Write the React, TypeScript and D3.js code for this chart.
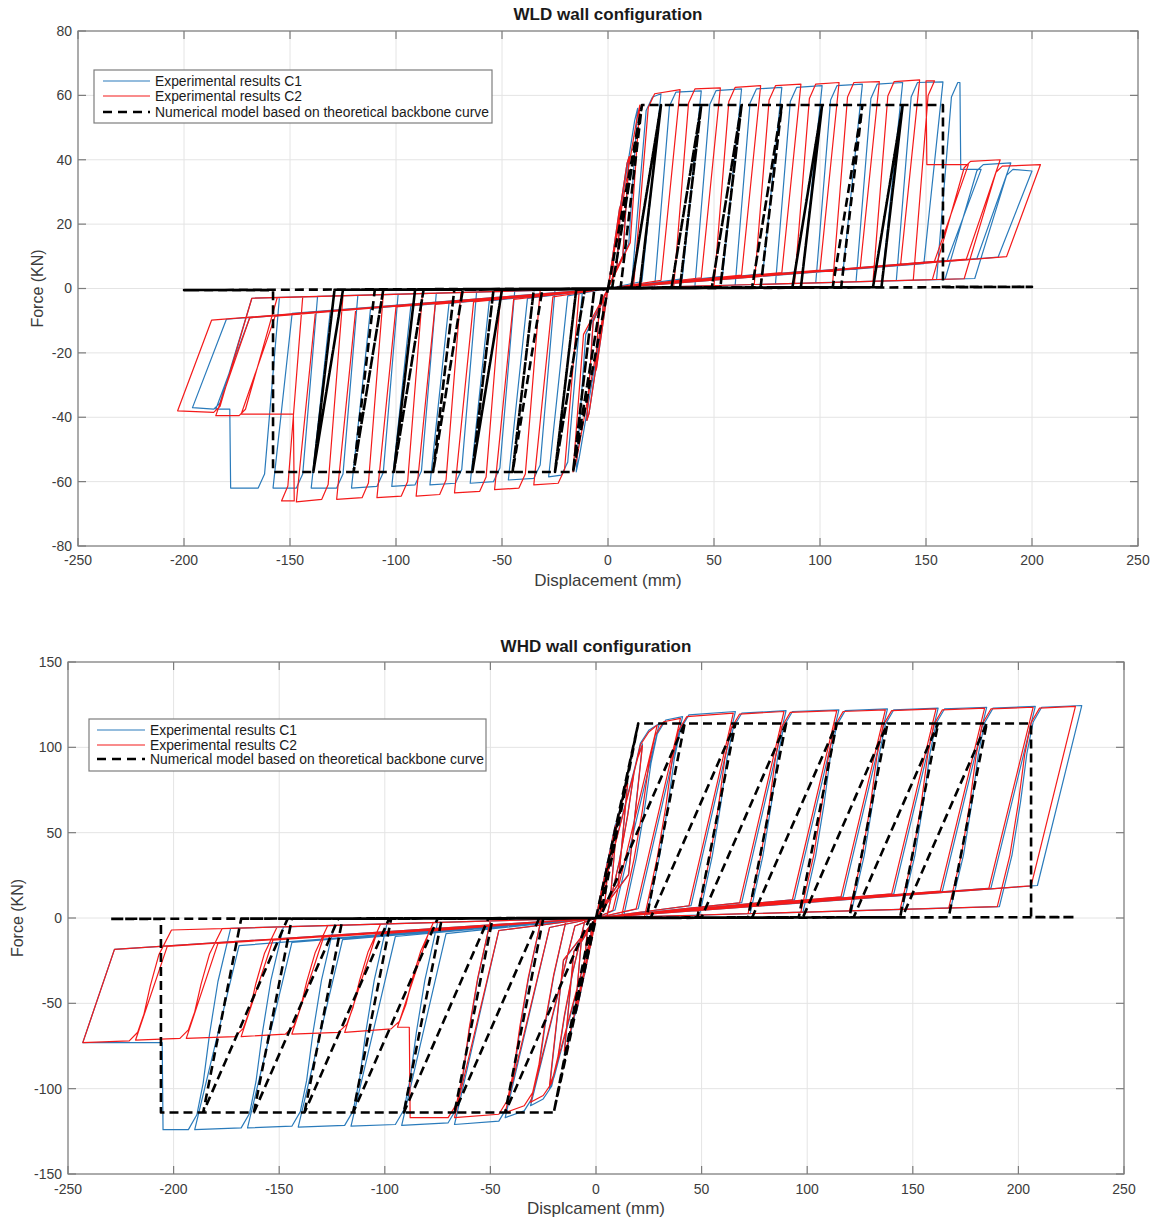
import React from 'react';
import * as d3 from 'd3';

type Cycle = [number, number, number, number]; // amplitude (mm), force at plateau start, force at amplitude, displacement of strength drop (0 = none)
type Pt = [number, number];

// ---------------- WLD wall configuration (top) ----------------
const wldXTicks = [-250, -200, -150, -100, -50, 0, 50, 100, 150, 200, 250];
const wldYTicks = [-80, -60, -40, -20, 0, 20, 40, 60, 80];

const wldC1Pos: Cycle[] = [
  [3, 13, 13, 0], [6, 26, 26, 0], [10, 41, 41, 0], [14, 55, 56, 0],
  [25, 59.5, 60.5, 0], [44, 61, 61.4, 0], [63, 61.5, 62, 0], [82, 62, 62.5, 0],
  [101, 62.5, 63, 0], [120, 63, 63.5, 0], [139, 63.5, 64, 0], [158, 64, 64.2, 0],
  [176, 64, 37, 166], [190, 38.5, 39, 0], [200, 37, 36.5, 0],
];
const wldC1Neg: Cycle[] = [
  [3, -13, -13, 0], [6, -26, -26, 0], [10, -41, -41, 0], [15, -55, -57, 0],
  [28, -58, -58.5, 0], [47, -59, -59.5, 0], [65, -60, -60.5, 0], [84, -60.5, -61, 0],
  [102, -61, -61.5, 0], [121, -61.5, -62, 0], [140, -62, -62, 0], [158, -62, -62, 0],
  [185, -62, -37.5, 178], [196, -37.5, -37, 0],
];
const wldC2Pos: Cycle[] = [
  [3, 13, 13, 0], [6, 26, 26, 0], [10, 41, 41, 0], [15, 55, 57, 0],
  [34, 60.5, 61.8, 0], [53, 62, 62.3, 0], [72, 62.5, 63, 0], [91, 63, 63.5, 0],
  [109, 63.5, 64, 0], [128, 64, 64.3, 0], [147, 64.3, 64.8, 0],
  [170, 64.5, 38.5, 150], [185, 39.5, 40, 0], [204, 38, 38.5, 0],
];
const wldC2Neg: Cycle[] = [
  [3, -13, -13, 0], [6, -26, -26, 0], [10, -41, -41, 0], [16.5, -56, -57, 0],
  [35, -60.5, -61, 0], [53.5, -62, -62.5, 0], [72.4, -63, -63.5, 0], [90.5, -64, -64.5, 0],
  [109, -64.5, -65, 0], [128, -65, -65.5, 0], [147, -65.5, -66.3, 0],
  [173, -66, -39, 148], [185, -39.5, -39.5, 0], [203, -38.5, -38, 0],
];
const wldNumPos = [16, 25, 44, 63, 82, 101, 120, 139, 158];
const wldNumNeg = [16.5, 25, 45, 64, 82.5, 101, 120, 139, 158];
const wldNumForce = 57;
const wldNumTail = [200, 200];

// ---------------- WHD wall configuration (bottom) ----------------
const whdXTicks = [-250, -200, -150, -100, -50, 0, 50, 100, 150, 200, 250];
const whdYTicks = [-150, -100, -50, 0, 50, 100, 150];

const whdC1Pos: Cycle[] = [
  [3, 18, 18, 0], [6, 35, 35, 0], [10, 57, 57, 0], [15, 80, 80, 0], [22, 100, 102, 0],
  [30, 110, 114, 0], [41, 116, 118, 0], [66, 119, 121, 0], [90, 120, 121.5, 0], [115, 121, 122, 0],
  [138, 121.5, 122.5, 0], [162, 122, 123, 0], [185, 122.5, 123.5, 0], [208, 123, 124, 0], [230, 123.5, 124.5, 0],
];
const whdC1Neg: Cycle[] = [
  [3, -18, -18, 0], [6, -35, -35, 0], [10, -57, -57, 0], [15, -80, -80, 0], [22, -98, -100, 0],
  [31, -106, -110, 0], [43, -113, -117, 0], [67, -119, -121, 0], [92, -120, -121.5, 0], [116, -121, -122, 0],
  [141, -121.5, -122.5, 0], [165, -122, -123, 0], [190, -123, -124, 0], [243, -124, -73, 205],
];
const whdC2Pos: Cycle[] = [
  [3, 18, 18, 0], [6, 34, 34, 0], [10, 56, 56, 0], [15, 79, 79, 0], [22, 99, 101, 0],
  [29, 109, 113, 0], [40, 115, 117, 0], [65, 118, 120, 0], [89, 119.5, 121, 0], [114, 120.5, 121.5, 0],
  [137, 121, 122, 0], [161, 121.5, 122.5, 0], [184, 122, 123, 0], [207, 122.5, 123.5, 0], [227, 123, 124, 0],
];
const whdC2Neg: Cycle[] = [
  [3, -18, -18, 0], [6, -34, -34, 0], [10, -56, -56, 0], [15, -78, -78, 0], [22, -96, -98, 0],
  [31, -104, -108, 0], [43, -110, -114, 0], [67, -115, -117, 0], [94, -117, -64, 88], [119, -65, -67, 0],
  [144, -67, -68, 0], [168, -68, -69.5, 0], [194, -69.5, -70.5, 0], [218, -70.5, -71.5, 0], [243, -72, -73, 0],
];
const whdNumPos = [20, 42, 66, 90, 114, 138, 162, 185, 206];
const whdNumNeg = [20, 43, 67, 91, 115, 138, 162, 186, 206];
const whdNumForce = 114;
const whdNumTail = [227, 230];

const legendLabels = [
  'Experimental results C1',
  'Experimental results C2',
  'Numerical model based on theoretical backbone curve',
];

// ---------------- loop construction ----------------
interface Geo {
  pinch: number;     // slope of the pinched reloading branch near zero force
  ret: number;       // slope of the unloading return branch near zero force
  elastic: number;
  reloadN: Pt[];
  reloadD: Pt[];
  unloadN: Pt;
  unloadD: Pt;
}

function halfLoop(c: Cycle, prevAmp: number, sgn: number, g: Geo, fmax: number): Pt[] {
  const [A, F1, F2, drop] = c;
  const a1 = Math.abs(F1);
  const a2 = Math.abs(F2);
  const pts: Pt[] = [[0, 0]];
  if (A <= g.elastic) {
    pts.push([A * 0.9, a1 * 0.95], [A, a2], [A * 0.7, a2 * 0.25]);
  } else {
    const rs = a1 < 0.75 * fmax ? g.reloadD : g.reloadN;
    let last = 0;
    for (const [dx, fr] of rs) {
      const d = Math.max(prevAmp + dx, last + 0.3);
      last = d;
      pts.push([d, fr === 0 ? g.pinch * d : a1 * fr]);
    }
    if (drop > 0) pts.push([drop, a1], [drop + 0.4, a2]);
    pts.push([A, a2]);
    const [w, e] = a2 < 0.75 * fmax ? g.unloadD : g.unloadN;
    const du = A - w;
    pts.push([du, g.ret * du + e]);
  }
  pts.push([0, 0]);
  return pts.map(([d, f]) => [sgn * d, sgn * f] as Pt);
}

function loopPath(pos: Cycle[], neg: Cycle[], g: Geo): Pt[] {
  const out: Pt[] = [];
  const fmaxP = d3.max(pos, (c) => Math.abs(c[1])) || 1;
  const fmaxN = d3.max(neg, (c) => Math.abs(c[1])) || 1;
  const n = Math.max(pos.length, neg.length);
  for (let i = 0; i < n; i++) {
    if (i < pos.length) out.push(...halfLoop(pos[i], i > 0 ? pos[i - 1][0] : 0, 1, g, fmaxP));
    if (i < neg.length) out.push(...halfLoop(neg[i], i > 0 ? neg[i - 1][0] : 0, -1, g, fmaxN));
  }
  return out;
}

function numPath(pos: number[], neg: number[], F: number, tails: number[], rw: number, uw: number, repeats: number): Pt[] {
  const out: Pt[] = [[0, 0]];
  const n = pos.length;
  for (let i = 0; i < n; i++) {
    const lastCyc = i === n - 1;
    const reps = lastCyc ? 1 : repeats;
    for (let r = 0; r < reps; r++) {
      const sides: [number[], number, number][] = [
        [pos, 1, tails[0]],
        [neg, -1, tails[1]],
      ];
      for (const [amps, sgn, tail] of sides) {
        const A = amps[i];
        const P = r === 0 ? (i > 0 ? amps[i - 1] : 0) : A;
        const seg: Pt[] = [];
        if (i === 0 && r === 0) seg.push([A, F]);
        else seg.push([Math.max(P - rw, 1), 0.4], [P, F], [A, F]);
        if (lastCyc) seg.push([A, 0.5], [tail, 0.5], [0, 0]);
        else seg.push([A - uw, 0.4], [0, 0]);
        out.push(...seg.map(([d, f]) => [sgn * d, sgn * f] as Pt));
      }
    }
  }
  return out;
}

const wldGeo: Geo = {
  pinch: 0.018,
  ret: 0.042,
  elastic: 17,
  reloadN: [[-3, 0], [4, 0.93], [7, 1]],
  reloadD: [[-17, 0], [-2, 0.95], [1, 1]],
  unloadN: [9, 1.5],
  unloadD: [16, 2],
};
const whdGeo: Geo = {
  pinch: 0.035,
  ret: 0.072,
  elastic: 23,
  reloadN: [[-17, 0], [-11, 0.3], [-7, 0.55], [-4, 0.78], [-1, 0.93], [3, 1]],
  reloadD: [[-17, 0], [-11, 0.3], [-7, 0.55], [-4, 0.78], [-1, 0.93], [3, 1]],
  unloadN: [21, 4],
  unloadD: [15, 2],
};

// ---------------- rendering ----------------
const BLUE = '#2a7bbb';
const RED = '#f41a1a';
const AXIS = '#7d7d7d';
const TEXT = '#3c3c3c';
const GRID = '#e4e4e4';
const FONT = '"Liberation Sans", Arial, Helvetica, sans-serif';

interface PanelProps {
  id: string;
  left: number; right: number; top: number; bottom: number;
  xDomain: [number, number]; yDomain: [number, number];
  xTicks: number[]; yTicks: number[];
  title: string; titleY: number;
  xLabel: string; xLabelY: number; xTickY: number;
  yLabel: string; yLabelX: number; yTickX: number;
  legend: { x: number; y: number; w: number; h: number; rows: number[]; lx0: number; lx1: number; tx: number };
  c1: Pt[]; c2: Pt[]; num: Pt[];
}

function Panel(p: PanelProps) {
  const x = d3.scaleLinear().domain(p.xDomain).range([p.left, p.right]);
  const y = d3.scaleLinear().domain(p.yDomain).range([p.bottom, p.top]);
  const line = d3.line<Pt>().x((d) => x(d[0])).y((d) => y(d[1]));
  const tl = 8;
  const cx = (p.left + p.right) / 2;
  const cy = (p.top + p.bottom) / 2;
  return (
    <g fontFamily={FONT}>
      <defs>
        <clipPath id={`clip-${p.id}`}>
          <rect x={p.left} y={p.top} width={p.right - p.left} height={p.bottom - p.top} />
        </clipPath>
      </defs>
      <rect x={p.left} y={p.top} width={p.right - p.left} height={p.bottom - p.top} fill="#fff" />
      {p.xTicks.map((t) => (
        <line key={`gx${t}`} x1={x(t)} x2={x(t)} y1={p.top} y2={p.bottom} stroke={GRID} strokeWidth={1} />
      ))}
      {p.yTicks.map((t) => (
        <line key={`gy${t}`} x1={p.left} x2={p.right} y1={y(t)} y2={y(t)} stroke={GRID} strokeWidth={1} />
      ))}
      <g clipPath={`url(#clip-${p.id})`} fill="none" strokeLinejoin="round">
        <path d={line(p.c1) || ''} stroke={BLUE} strokeWidth={1.2} />
        <path d={line(p.c2) || ''} stroke={RED} strokeWidth={1.2} />
        <path d={line(p.num) || ''} stroke="#000" strokeWidth={2.6} strokeDasharray="9,5" />
      </g>
      <rect x={p.left} y={p.top} width={p.right - p.left} height={p.bottom - p.top} fill="none" stroke={AXIS} strokeWidth={1.2} />
      {p.xTicks.map((t) => (
        <g key={`tx${t}`}>
          <line x1={x(t)} x2={x(t)} y1={p.bottom} y2={p.bottom - tl} stroke={AXIS} strokeWidth={1.2} />
          <line x1={x(t)} x2={x(t)} y1={p.top} y2={p.top + tl} stroke={AXIS} strokeWidth={1.2} />
          <text x={x(t)} y={p.xTickY} textAnchor="middle" fontSize={14} fill={TEXT}>{t}</text>
        </g>
      ))}
      {p.yTicks.map((t) => (
        <g key={`ty${t}`}>
          <line x1={p.left} x2={p.left + tl} y1={y(t)} y2={y(t)} stroke={AXIS} strokeWidth={1.2} />
          <line x1={p.right} x2={p.right - tl} y1={y(t)} y2={y(t)} stroke={AXIS} strokeWidth={1.2} />
          <text x={p.yTickX} y={y(t)} dy="0.35em" textAnchor="end" fontSize={14} fill={TEXT}>{t}</text>
        </g>
      ))}
      <text x={cx} y={p.titleY} textAnchor="middle" fontSize={17} fontWeight="bold" fill="#1a1a1a">{p.title}</text>
      <text x={cx} y={p.xLabelY} textAnchor="middle" fontSize={17} fill={TEXT}>{p.xLabel}</text>
      <text transform={`translate(${p.yLabelX},${cy}) rotate(-90)`} textAnchor="middle" fontSize={16} fill={TEXT}>{p.yLabel}</text>
      <g>
        <rect x={p.legend.x} y={p.legend.y} width={p.legend.w} height={p.legend.h} fill="#fff" stroke={AXIS} strokeWidth={1.2} />
        {legendLabels.map((lab, i) => (
          <g key={lab}>
            <line
              x1={p.legend.lx0} x2={p.legend.lx1} y1={p.legend.rows[i]} y2={p.legend.rows[i]}
              stroke={i === 0 ? BLUE : i === 1 ? RED : '#000'}
              strokeWidth={i === 2 ? 2.6 : 1.2}
              strokeDasharray={i === 2 ? '9,6' : undefined}
            />
            <text x={p.legend.tx} y={p.legend.rows[i]} dy="0.35em" fontSize={13.85} fill="#1a1a1a">{lab}</text>
          </g>
        ))}
      </g>
    </g>
  );
}

export default function App() {
  const wldC1 = loopPath(wldC1Pos, wldC1Neg, wldGeo);
  const wldC2 = loopPath(wldC2Pos, wldC2Neg, wldGeo);
  const wldNum = numPath(wldNumPos, wldNumNeg, wldNumForce, wldNumTail, 14, 10, 2);
  const whdC1 = loopPath(whdC1Pos, whdC1Neg, whdGeo);
  const whdC2 = loopPath(whdC2Pos, whdC2Neg, whdGeo);
  const whdNum = numPath(whdNumPos, whdNumNeg, whdNumForce, whdNumTail, 40, 18, 1);
  return (
    <svg width={1159} height={1220} style={{ position: 'absolute', left: 0, top: 0, background: '#fff' }}>
      <rect width={1159} height={1220} fill="#fff" />
      <Panel
        id="wld" left={78} right={1138} top={31} bottom={546}
        xDomain={[-250, 250]} yDomain={[-80, 80]} xTicks={wldXTicks} yTicks={wldYTicks}
        title="WLD wall configuration" titleY={20}
        xLabel="Displacement (mm)" xLabelY={586} xTickY={565}
        yLabel="Force (KN)" yLabelX={43} yTickX={72}
        legend={{ x: 94, y: 70, w: 398, h: 53, rows: [81, 96, 112], lx0: 103, lx1: 150, tx: 155 }}
        c1={wldC1} c2={wldC2} num={wldNum}
      />
      <Panel
        id="whd" left={68} right={1124} top={662} bottom={1174}
        xDomain={[-250, 250]} yDomain={[-150, 150]} xTicks={whdXTicks} yTicks={whdYTicks}
        title="WHD wall configuration" titleY={652}
        xLabel="Displcament (mm)" xLabelY={1214} xTickY={1194}
        yLabel="Force (KN)" yLabelX={23} yTickX={62}
        legend={{ x: 89, y: 719, w: 397, h: 52, rows: [730, 745, 759], lx0: 97, lx1: 145, tx: 150 }}
        c1={whdC1} c2={whdC2} num={whdNum}
      />
    </svg>
  );
}
